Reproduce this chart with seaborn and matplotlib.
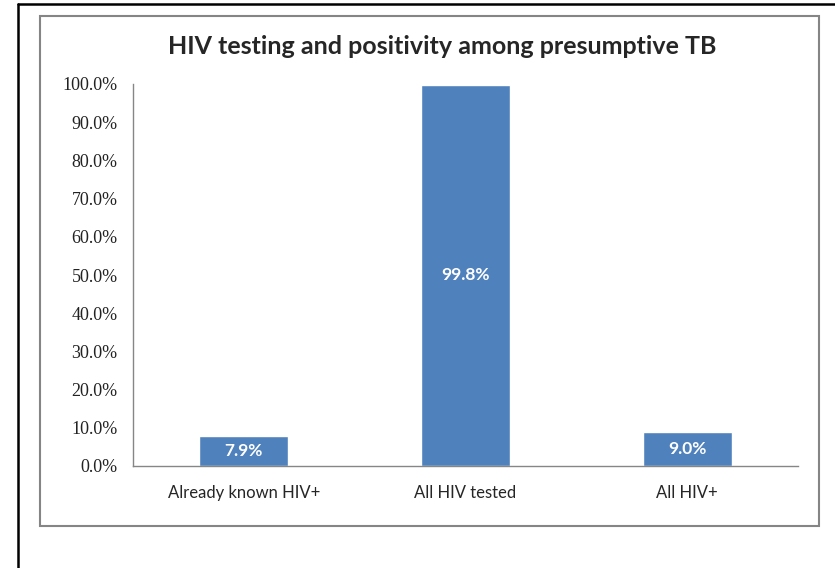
import matplotlib
matplotlib.use("Agg")
import matplotlib.pyplot as plt
import seaborn as sns
import pandas as pd
from matplotlib.lines import Line2D
from matplotlib.patches import Rectangle
from matplotlib.ticker import FuncFormatter, FixedLocator

sns.set_style('white')

categories = ['Already known HIV+', 'All HIV tested', 'All HIV+']
values = [7.9, 99.8, 9.0]
bar_labels = ['7.9%', '99.8%', '9.0%']
title = 'HIV testing and positivity among presumptive TB'

df = pd.DataFrame({'group': categories, 'pct': values})

W, H = 835, 568
fig = plt.figure(figsize=(W / 100, H / 100), dpi=100)
ax = fig.add_axes([133 / W, 1 - 466 / H, (798 - 133) / W, (466 - 84) / H])

sns.barplot(data=df, x='group', y='pct', color='#4F81BD', saturation=1,
            width=0.4, ax=ax)

ax.set_xlim(-0.5, 2.5)
ax.set_ylim(0, 100)
ax.set_yticks(range(0, 101, 10))
ax.yaxis.set_major_formatter(FuncFormatter(lambda v, p: f'{v:.1f}%'))
ax.set_xlabel('')
ax.set_ylabel('')

# x ticks sit on category boundaries, labels centred
ax.xaxis.set_major_locator(FixedLocator([-0.5, 0.5, 1.5, 2.5]))
ax.xaxis.set_major_formatter(FuncFormatter(lambda v, p: ''))
ax.xaxis.set_minor_locator(FixedLocator([0, 1, 2]))
ax.set_xticklabels(categories, minor=True, fontfamily='Lato', fontsize=12)
ax.tick_params(axis='x', which='minor', length=0, pad=14)
ax.tick_params(axis='x', which='major', length=5, color='#868686', direction='out')
ax.tick_params(axis='y', length=5, color='#868686', direction='out', pad=6,
               labelsize=13)
for lab in ax.get_yticklabels():
    lab.set_fontfamily('Liberation Serif')
    lab.set_color('#222222')

for s in ['top', 'right']:
    ax.spines[s].set_visible(False)
for s in ['left', 'bottom']:
    ax.spines[s].set_color('#868686')
    ax.spines[s].set_linewidth(1)

ax.bar_label(ax.containers[0], labels=bar_labels, label_type='center',
             color='white', fontweight='bold', fontfamily='Lato', fontsize=12.5)

fig.text(442 / W, 1 - 47 / H, title, ha='center', va='center',
         fontfamily='Lato', fontweight='bold', fontsize=18)

# chart area frame and outer page frame
fig.patches.append(Rectangle((40 / W, 1 - 526 / H), (819 - 40) / W, (526 - 16) / H,
                             transform=fig.transFigure, fill=False,
                             edgecolor='#858585', linewidth=1.5))
fig.lines.append(Line2D([18 / W, 18 / W], [0, 1 - 4 / H], transform=fig.transFigure,
                        color='black', linewidth=1.8))
fig.lines.append(Line2D([18 / W, 1], [1 - 4 / H, 1 - 4 / H], transform=fig.transFigure,
                        color='black', linewidth=1.8))

fig.savefig('out.png', dpi=100)
